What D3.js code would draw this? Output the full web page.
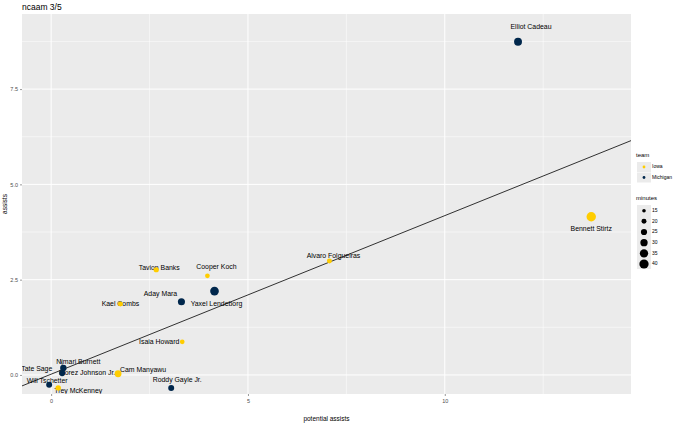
<!DOCTYPE html>
<html><head><meta charset="utf-8">
<script src="https://cdn.jsdelivr.net/npm/d3@7"></script>
<style>body{margin:0;background:#fff;}svg{display:block;font-family:"Liberation Sans",Arial,sans-serif;}</style>
</head><body>
<script>
// ---- data ----
const players = ["Tate Sage","Elliot Cadeau","Bennett Stirtz","Alvaro Folgueiras","Tavion Banks","Cooper Koch","Yaxel Lendeborg","Aday Mara","Kael Combs","Isaia Howard","Nimari Burnett","Morez Johnson Jr.","Cam Manyawu","Will Tschetter","Trey McKenney","Roddy Gayle Jr."];
const teams = ["Iowa","Michigan","Iowa","Iowa","Iowa","Iowa","Michigan","Michigan","Iowa","Iowa","Michigan","Michigan","Iowa","Michigan","Iowa","Michigan"];
const potentialAssists = [0.27,11.86,13.72,7.07,2.67,3.97,4.15,3.31,1.76,3.33,0.31,0.28,1.70,-0.05,0.18,3.05];
const assists = [0.08,8.74,4.15,2.99,2.76,2.60,2.20,1.92,1.86,0.87,0.18,0.05,0.03,-0.26,-0.34,-0.34];
const minutes = [14,33,41,20,21,19,37,29,20,19,26,25,28,24,22,24];
const xTicks = [0,5,10];
const yTicks = [0,2.5,5,7.5];
const minuteBreaks = [15,20,25,30,35,40];
const teamNames = ["Iowa","Michigan"];
const fitIntercept = 0.02, fitSlope = 0.416;
// label nudges (pixels) for repelled labels
const labelDx = [-25,13,0,4,3,9,2,-21,0,-23,15,25,25,-2,20,6];
const labelDy = [-3,-15,12,-5,-2,-9,13,-8,0,0,-6,0,-4,-4,3,-8];

const W=680,H=426;
const svg=d3.select("body").append("svg").attr("width",W).attr("height",H);
const P={l:22,r:631,t:14,b:394};
const x=d3.scaleLinear().domain([-0.74,14.73]).range([P.l,P.r]);
const y=d3.scaleLinear().domain([-0.5,9.47]).range([P.b,P.t]);
const color=d3.scaleOrdinal().domain(teamNames).range(["#FFCD00","#00274C"]);
const size=d3.scaleSqrt().domain([13,42]).range([1.5,4.8]);

svg.append("rect").attr("x",P.l).attr("y",P.t).attr("width",P.r-P.l).attr("height",P.b-P.t).attr("fill","#ebebeb");
// minor grid
const xMinor=[2.5,7.5,12.5], yMinor=[1.25,3.75,6.25,8.75];
svg.append("g").selectAll("line").data(xMinor).join("line").attr("x1",d=>x(d)).attr("x2",d=>x(d)).attr("y1",P.t).attr("y2",P.b).attr("stroke","#fff").attr("stroke-width",0.5);
svg.append("g").selectAll("line").data(yMinor).join("line").attr("y1",d=>y(d)).attr("y2",d=>y(d)).attr("x1",P.l).attr("x2",P.r).attr("stroke","#fff").attr("stroke-width",0.5);
svg.append("g").selectAll("line").data(xTicks).join("line").attr("x1",d=>x(d)).attr("x2",d=>x(d)).attr("y1",P.t).attr("y2",P.b).attr("stroke","#fff").attr("stroke-width",1);
svg.append("g").selectAll("line").data(yTicks).join("line").attr("y1",d=>y(d)).attr("y2",d=>y(d)).attr("x1",P.l).attr("x2",P.r).attr("stroke","#fff").attr("stroke-width",1);

// axes
const xa=svg.append("g").attr("transform",`translate(0,${P.b})`).call(d3.axisBottom(x).tickValues(xTicks).tickSize(2).tickPadding(3).tickFormat(d3.format("d")));
const ya=svg.append("g").attr("transform",`translate(${P.l},0)`).call(d3.axisLeft(y).tickValues(yTicks).tickSize(2).tickPadding(2).tickFormat(d3.format(".1f")));
[xa,ya].forEach(a=>{a.attr("fill","#4d4d4d");a.select(".domain").remove();a.selectAll(".tick line").attr("stroke","#333").attr("stroke-width",0.5);a.selectAll("text").attr("fill","#4d4d4d").attr("font-size",5.5).attr("font-family","Liberation Sans, Arial, sans-serif");});

// clip
svg.append("clipPath").attr("id","pc").append("rect").attr("x",P.l).attr("y",P.t).attr("width",P.r-P.l).attr("height",P.b-P.t);
const g=svg.append("g").attr("clip-path","url(#pc)");

const data=players.map((p,i)=>({p,team:teams[i],x:potentialAssists[i],y:assists[i],m:minutes[i],dx:labelDx[i],dy:labelDy[i]}));

// fit line
const xd=x.domain();
g.append("line").attr("x1",x(xd[0])).attr("y1",y(fitIntercept+fitSlope*xd[0])).attr("x2",x(xd[1])).attr("y2",y(fitIntercept+fitSlope*xd[1])).attr("stroke","#000").attr("stroke-width",0.8);

// segments for far labels
g.selectAll("line.seg").data(data.filter(d=>d.p==="Nimari Burnett")).join("line").attr("class","seg")
 .attr("x1",d=>x(d.x)).attr("y1",d=>y(d.y)).attr("x2",d=>x(d.x)-3).attr("y2",d=>y(d.y)+d.dy-3).attr("stroke","#000").attr("stroke-width",0.5);

// labels
g.selectAll("text.lab").data(data).join("text").attr("class","lab").attr("x",d=>x(d.x)+d.dx).attr("y",d=>y(d.y)+d.dy)
 .attr("text-anchor","middle").attr("dominant-baseline","middle").attr("font-size",6.9).attr("fill","#000").text(d=>d.p);

// points (drawn over labels)
g.selectAll("circle.pt").data(data).join("circle").attr("class","pt").attr("cx",d=>x(d.x)).attr("cy",d=>y(d.y)).attr("r",d=>size(d.m)).attr("fill",d=>color(d.team));

// titles
svg.append("text").attr("x",P.l).attr("y",10).attr("font-size",8.5).attr("fill","#000").text("ncaam 3/5");
svg.append("text").attr("x",(P.l+P.r)/2).attr("y",421).attr("text-anchor","middle").attr("font-size",6.5).attr("fill","#000").text("potential assists");
svg.append("text").attr("transform",`translate(7,${(P.t+P.b)/2}) rotate(-90)`).attr("text-anchor","middle").attr("font-size",6.5).attr("fill","#000").text("assists");

// legend: team
const lg=svg.append("g");
lg.append("text").attr("x",636).attr("y",157).attr("font-size",6).text("team");
teamNames.forEach((t,i)=>{
  const cy=167+i*10.5;
  lg.append("rect").attr("x",637).attr("y",cy-5).attr("width",14).attr("height",10).attr("fill","#ebebeb");
  lg.append("circle").attr("cx",644).attr("cy",cy).attr("r",1.4).attr("fill",color(t));
  lg.append("text").attr("x",652).attr("y",cy).attr("dominant-baseline","middle").attr("font-size",5).attr("fill","#000").text(t);
});
lg.append("text").attr("x",636).attr("y",200).attr("font-size",6).text("minutes");
lg.append("rect").attr("x",637).attr("y",205).attr("width",14).attr("height",64).attr("fill","#ebebeb");
minuteBreaks.forEach((m,i)=>{
  const cy=210.7+i*10.66;
  lg.append("circle").attr("cx",644).attr("cy",cy).attr("r",size(m)).attr("fill","#000");
  lg.append("text").attr("x",652).attr("y",cy).attr("dominant-baseline","middle").attr("font-size",5).attr("fill","#000").text(m);
});
</script>
</body></html>
